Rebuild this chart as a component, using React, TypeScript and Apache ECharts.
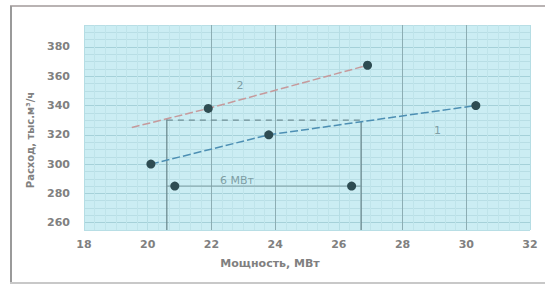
import React, { useEffect, useRef } from "react";
import * as echarts from "echarts";

const xTicks = [18, 20, 22, 24, 26, 28, 30, 32];
const yTicks = [260, 280, 300, 320, 340, 360, 380];
const line1 = [[20.1, 300], [23.8, 320], [30.3, 340]];
const line2 = [[19.5, 325], [21.9, 338], [26.9, 367.5]];
const line2Markers = [[21.9, 338], [26.9, 367.5]];
const flowRef = [[20.6, 330], [26.7, 330]];
const dropA = [[20.6, 331], [20.6, 255]];
const dropB = [[26.7, 329], [26.7, 255]];
const dimLine = [[20.6, 285], [26.7, 285]];
const dimMarkers = [[20.85, 285], [26.4, 285]];
const curveLabels = [
  { text: "2", x: 22.9, y: 354 },
  { text: "1", x: 29.1, y: 323 },
  { text: "6 МВт", x: 22.8, y: 289 },
];
const xTitle = "Мощность, МВт";
const yTitle = "Расход, тыс.м³/ч";

export default function App() {
  const ref = useRef<HTMLDivElement>(null);
  useEffect(() => {
    const chart = echarts.init(ref.current!, null, { renderer: "svg" });
    const mk = "#2e4c52";
    const lt = "#b5dde4";
    const dk = "#8cadb3";
    chart.setOption({
      animation: false,
      backgroundColor: "#ffffff",
      grid: {
        left: 84,
        right: 15,
        top: 25,
        bottom: 55,
        show: true,
        backgroundColor: "#cbedf3",
        borderWidth: 0,
      },
      xAxis: {
        type: "value",
        min: xTicks[0],
        max: xTicks[xTicks.length - 1],
        interval: 2,
        axisLine: { show: false },
        axisTick: { show: false },
        axisLabel: {
          color: "#808080",
          fontSize: 11,
          fontWeight: "bold",
          fontFamily: "DejaVu Sans",
          margin: 9,
        },
        splitLine: {
          show: true,
          lineStyle: { color: [lt, lt, dk, dk, lt, dk, dk, lt], width: 1 },
        },
        minorTick: { show: false, splitNumber: 6 },
        minorSplitLine: { show: true, lineStyle: { color: "#bfe4ea", width: 1 } },
      },
      yAxis: {
        type: "value",
        min: 255,
        max: 395,
        interval: 5,
        axisLine: { show: false },
        axisTick: { show: false },
        axisLabel: {
          color: "#808080",
          fontSize: 11,
          fontWeight: "bold",
          fontFamily: "DejaVu Sans",
          margin: 14,
          formatter: (v: number) => (yTicks.indexOf(v) >= 0 ? String(v) : ""),
        },
        splitLine: {
          show: true,
          lineStyle: { color: ["#b8dee5", "#a5d1d9", "#b8dee5", "#b8dee5"], width: 1 },
        },
      },
      graphic: [
        { type: "line", shape: { x1: 10, y1: 6, x2: 545, y2: 6 }, style: { stroke: "#b9b3b3", lineWidth: 2 } },
        { type: "line", shape: { x1: 11, y1: 6, x2: 11, y2: 283 }, style: { stroke: "#9a9a9a", lineWidth: 2 } },
        { type: "line", shape: { x1: 10, y1: 283, x2: 545, y2: 283 }, style: { stroke: "#c8c8c8", lineWidth: 2 } },
        {
          type: "text",
          x: 270,
          y: 263,
          style: {
            text: xTitle,
            fill: "#808080",
            font: "bold 11px DejaVu Sans",
            textAlign: "center",
            textVerticalAlign: "middle",
          },
        },
        {
          type: "text",
          x: 30,
          y: 140,
          rotation: Math.PI / 2,
          style: {
            text: yTitle,
            fill: "#808080",
            font: "bold 10px DejaVu Sans",
            textAlign: "center",
            textVerticalAlign: "middle",
          },
        },
      ],
      series: [
        { type: "line", data: dropA, symbol: "none", lineStyle: { color: "#668389", width: 1.2 }, z: 3 },
        { type: "line", data: dropB, symbol: "none", lineStyle: { color: "#668389", width: 1.2 }, z: 3 },
        {
          type: "line",
          data: flowRef,
          symbol: "none",
          lineStyle: { color: "#6f8e95", width: 1.2, type: [6, 5] },
          z: 3,
        },
        { type: "line", data: dimLine, symbol: "none", lineStyle: { color: "#7b9aa0", width: 1 }, z: 3 },
        {
          type: "line",
          data: line1,
          symbol: "circle",
          symbolSize: 9,
          itemStyle: { color: mk },
          lineStyle: { color: "#4d8fb3", width: 1.5, type: [8, 3] },
          z: 4,
        },
        {
          type: "line",
          data: line2,
          symbol: "none",
          lineStyle: { color: "#c69a9c", width: 1.5, type: [8, 3] },
          z: 4,
        },
        {
          type: "scatter",
          data: line2Markers.concat(dimMarkers),
          symbol: "circle",
          symbolSize: 9,
          itemStyle: { color: mk, opacity: 1 },
          z: 5,
        },
        {
          type: "scatter",
          data: curveLabels.map((l) => ({ value: [l.x, l.y], name: l.text })),
          symbolSize: 0,
          label: {
            show: true,
            position: "inside",
            formatter: (p: any) => p.name,
            color: "#6b8a90",
            fontSize: 11,
            fontFamily: "DejaVu Sans",
          },
          z: 6,
        },
      ],
    });
    return () => chart.dispose();
  }, []);
  return <div ref={ref} style={{ position: "fixed", left: 0, top: 0, width: 545, height: 285 }} />;
}
